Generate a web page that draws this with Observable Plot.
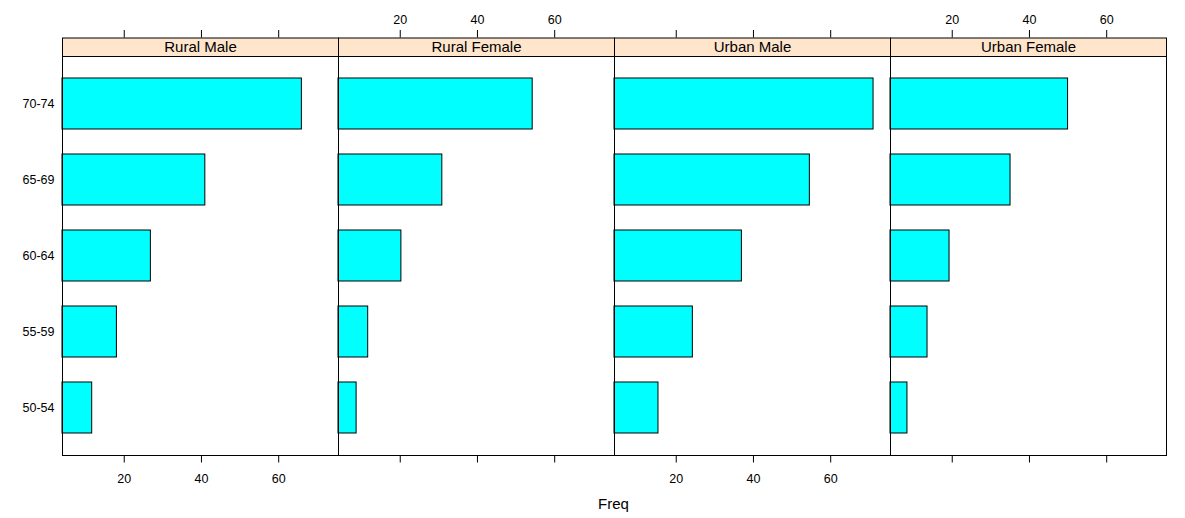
<!DOCTYPE html>
<html>
<head>
<meta charset="utf-8">
<script src="https://cdn.jsdelivr.net/npm/d3@7"></script>
<script src="https://cdn.jsdelivr.net/npm/@observablehq/plot@0.6"></script>
<style>
  html, body { margin: 0; padding: 0; background: #fff; }
  #chart { width: 1185px; font-family: "Liberation Sans", Arial, sans-serif; }
  #xlabel { box-sizing: border-box; width: 1185px; text-align: center; font-size: 15px; line-height: 18px; padding-top: 5px; padding-left: 61px; padding-right: 19px; color: #000; font-family: "Liberation Sans", Arial, sans-serif; }
</style>
</head>
<body>
<div id="chart"></div>
<script>
const ages = ["50-54", "55-59", "60-64", "65-69", "70-74"];
const groups = ["Rural Male", "Rural Female", "Urban Male", "Urban Female"];
const ruralMale = [11.7, 18.1, 26.9, 41.0, 66.0];
const ruralFemale = [8.7, 11.7, 20.3, 30.9, 54.3];
const urbanMale = [15.4, 24.3, 37.0, 54.6, 71.1];
const urbanFemale = [8.4, 13.6, 19.3, 35.1, 50.0];
const xTicks = [20, 40, 60];
const xLabel = "Freq";

const series = [ruralMale, ruralFemale, urbanMale, urbanFemale];
const rows = groups.flatMap((g, gi) => ages.map((a, ai) => ({group: g, age: a, freq: series[gi][ai]})));

// lattice-style extended range (7% padding)
const allVals = rows.map(d => d.freq);
const mn = d3.min(allVals), mx = d3.max(allVals);
const pad = (mx - mn) * 0.07;
const xDomain = [mn - pad, mx + pad];

const tickRows = groups.flatMap((g, i) => xTicks.map(v => ({group: g, v, top: i % 2 === 1})));

const H = 490, mTop = 56, mBottom = 35;
const innerH = H - mTop - mBottom;
const font = "Liberation Sans, Arial, sans-serif";

const chart = Plot.plot({
  width: 1185,
  height: H,
  marginLeft: 61,
  marginRight: 19,
  marginTop: mTop,
  marginBottom: mBottom,
  style: {fontFamily: font, fontSize: "12.5px", color: "#000", background: "#fff"},
  fx: {domain: groups, padding: 0, axis: null},
  x: {domain: xDomain, axis: null},
  y: {domain: ages.slice().reverse(), paddingInner: 1 / 3, paddingOuter: 0.2667, axis: null},
  marks: [
    // strip
    Plot.frame({fill: "#ffe5cc", stroke: "#000", insetTop: -18.5, insetBottom: innerH}),
    Plot.text(groups, {fx: d => d, text: d => d, frameAnchor: "top", lineAnchor: "middle", dy: -9.5, fontSize: 15, fill: "#000"}),
    // bars
    Plot.barX(rows, {fx: "group", y: "age", x1: () => xDomain[0], x2: "freq", fill: "#00FFFF", stroke: "#000", strokeWidth: 1}),
    // panel frame
    Plot.frame({stroke: "#000"}),
    // top ticks (all panels)
    Plot.ruleX(xTicks, {x: d => d, insetTop: -26, insetBottom: innerH + 18.5, stroke: "#000"}),
    // bottom ticks (all panels)
    Plot.ruleX(xTicks, {x: d => d, insetTop: innerH, insetBottom: -7.5, stroke: "#000"}),
    // top labels (panels 2 & 4)
    Plot.text(tickRows.filter(d => d.top), {fx: "group", x: "v", text: d => String(d.v), frameAnchor: "top", dy: -32.7, lineAnchor: "bottom", fontSize: 12.5, fill: "#000"}),
    // bottom labels (panels 1 & 3)
    Plot.text(tickRows.filter(d => !d.top), {fx: "group", x: "v", text: d => String(d.v), frameAnchor: "bottom", dy: 27.7, lineAnchor: "bottom", fontSize: 12.5, fill: "#000"}),
    // y axis labels
    Plot.axisY({tickSize: 0, tickPadding: 8, fontSize: 12.5, label: null, fill: "#000"})
  ]
});
document.getElementById("chart").appendChild(chart);
const lab = document.createElement("div");
lab.id = "xlabel";
lab.textContent = xLabel;
document.body.appendChild(lab);
</script>
</body>
</html>
